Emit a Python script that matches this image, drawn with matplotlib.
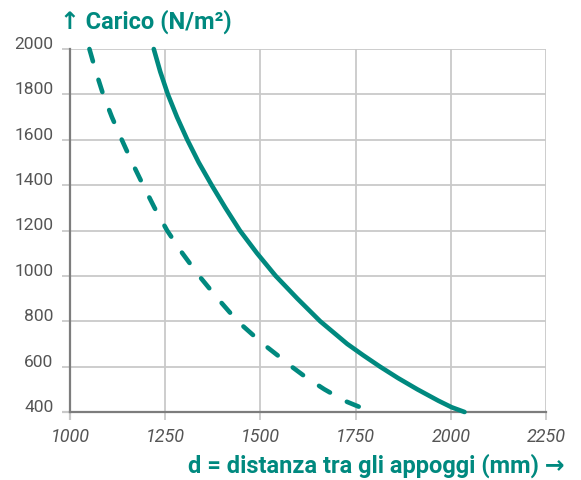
import matplotlib
matplotlib.use("Agg")
import matplotlib.pyplot as plt

# Data
solid_load = [2000, 1900, 1800, 1700, 1600, 1500, 1400, 1300, 1200, 1100, 1000, 900, 800, 700, 650, 600, 550, 500, 450, 421, 400]
solid_span = [1220, 1237, 1257, 1281, 1308, 1338, 1372, 1408, 1446, 1491, 1540, 1597, 1657, 1728, 1770, 1814, 1861, 1912, 1967, 2002, 2036]
dashed_load = [2000, 1900, 1800, 1700, 1600, 1500, 1400, 1300, 1200, 1100, 1000, 900, 800, 700, 650, 600, 550, 500, 450, 421]
dashed_span = [1051, 1068, 1087, 1110, 1136, 1163, 1192, 1222, 1255, 1295, 1339, 1388, 1440, 1507, 1545, 1582, 1622, 1668, 1720, 1762]

x_ticks = [1000, 1250, 1500, 1750, 2000, 2250]
y_ticks = [400, 600, 800, 1000, 1200, 1400, 1600, 1800, 2000]

title_text = "↑ Carico (N/m²)"
xlabel_text = "d = distanza tra gli appoggi (mm) →"

TEAL = "#00897f"
GRID = "#c9c9c9"
SPINE = "#7d7d7d"
TICKTXT = "#555555"
FONT = ["Roboto", "DejaVu Sans"]

fig = plt.figure(figsize=(5.81, 4.80), dpi=100)
ax = fig.add_axes([70 / 581, 68 / 480, 476 / 581, 363 / 480])

ax.set_xlim(1000, 2250)
ax.set_ylim(400, 2000)
ax.set_xticks(x_ticks)
ax.set_yticks(y_ticks)
ax.grid(True, color=GRID, linewidth=1.3)
ax.set_axisbelow(True)

for s in ["top", "right"]:
    ax.spines[s].set_visible(False)
for s in ["left", "bottom"]:
    ax.spines[s].set_color(SPINE)
    ax.spines[s].set_linewidth(1.6)
    ax.spines[s].set_zorder(1.5)

ax.tick_params(axis="both", color=GRID, width=1.3, length=5.5)
ax.tick_params(axis="y", pad=6.5)
ax.tick_params(axis="x", pad=6)

ax.set_xticklabels([str(v) for v in x_ticks], fontsize=13, style="italic",
                   color=TICKTXT, family=FONT)
ax.set_yticklabels([str(v) for v in y_ticks], fontsize=12.5, color=TICKTXT,
                   family=FONT, va="baseline")

# spine-coloured ticks at the origin
ax.yaxis.get_major_ticks()[0].tick1line.set_color(SPINE)
ax.yaxis.get_major_ticks()[0].tick1line.set_markeredgewidth(1.6)
ax.xaxis.get_major_ticks()[0].tick1line.set_color(SPINE)
ax.xaxis.get_major_ticks()[0].tick1line.set_markeredgewidth(1.6)

ax.plot(solid_span, solid_load, color=TEAL, linewidth=3.3,
        solid_capstyle="round", solid_joinstyle="round", clip_on=False, zorder=3)
ax.plot(dashed_span, dashed_load, color=TEAL, linewidth=3.3,
        linestyle=(0, (2.8, 4.2)), dash_capstyle="round", dash_joinstyle="round",
        clip_on=False, zorder=3)

fig.text(60 / 581, 1 - 29 / 480, title_text, color=TEAL, fontsize=17,
         fontweight="bold", family=FONT, ha="left", va="baseline")
fig.text(564 / 581, 1 - 473 / 480, xlabel_text, color=TEAL, fontsize=17,
         fontweight="bold", family=FONT, ha="right", va="baseline")

fig.savefig("out.png", dpi=100)
